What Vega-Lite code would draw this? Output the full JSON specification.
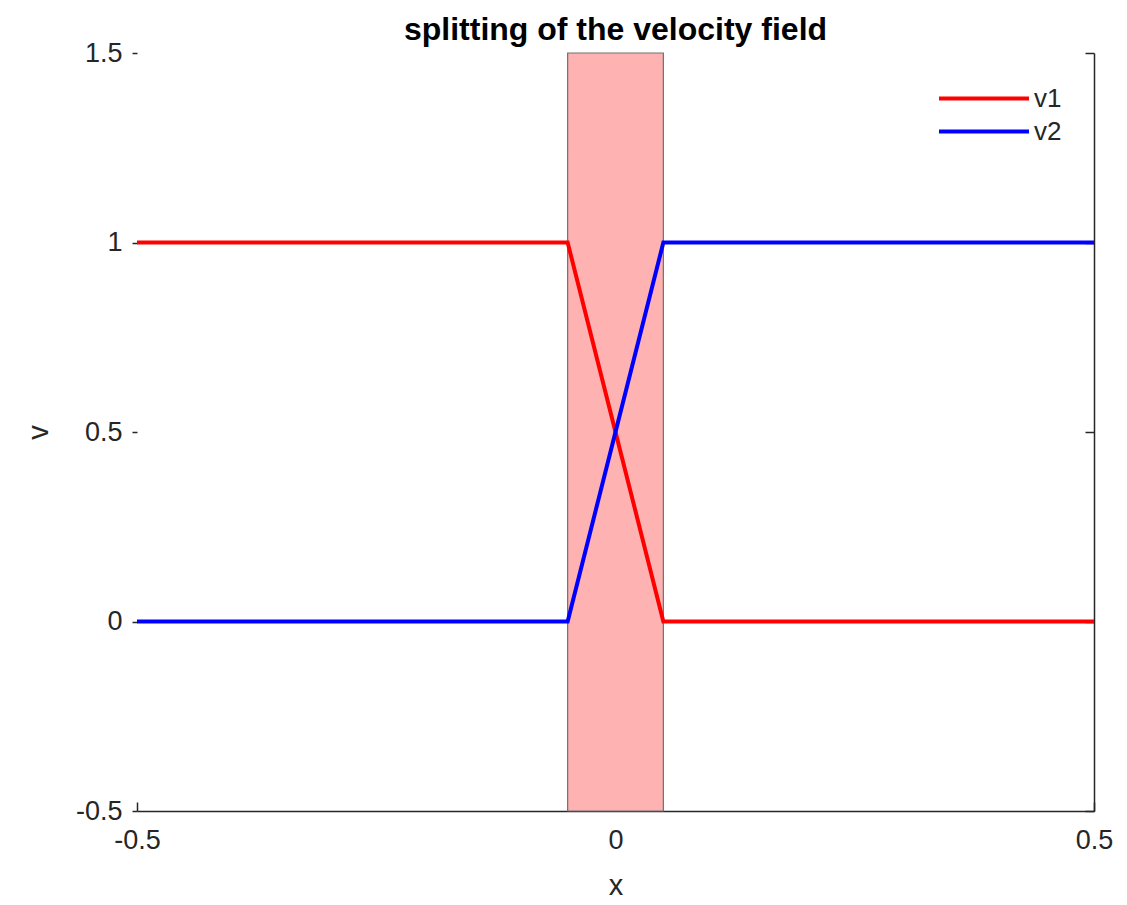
{
  "$schema": "https://vega.github.io/schema/vega-lite/v6.json",
  "width": 957,
  "height": 758,
  "autosize": "none",
  "padding": {"left": 137, "top": 53, "right": 33, "bottom": 94},
  "background": "white",
  "config": {
    "view": {"stroke": null},
    "font": "Liberation Sans",
    "axis": {"grid": false, "labelFont": "Liberation Sans", "titleFont": "Liberation Sans", "labelFontSize": 27, "titleFontSize": 29, "labelColor": "#262626", "titleColor": "#262626", "titleFontWeight": "normal", "domainColor": "#262626", "tickColor": "#262626", "domainWidth": 1.5, "tickWidth": 1.5}
  },
  "title": {"text": "splitting of the velocity field", "font": "Liberation Sans", "fontSize": 32, "fontWeight": "bold", "color": "#000000", "offset": -8, "anchor": "middle"},
  "datasets": {
    "band": [{"x0": -0.05, "x1": 0.05, "y0": -0.5, "y1": 1.5}],
    "lines": [
      {"x": -0.5, "v": 1, "series": "v1"},
      {"x": -0.05, "v": 1, "series": "v1"},
      {"x": 0.05, "v": 0, "series": "v1"},
      {"x": 0.5, "v": 0, "series": "v1"},
      {"x": -0.5, "v": 0, "series": "v2"},
      {"x": -0.05, "v": 0, "series": "v2"},
      {"x": 0.05, "v": 1, "series": "v2"},
      {"x": 0.5, "v": 1, "series": "v2"}
    ]
  },
  "layer": [
    {
      "data": {"name": "band"},
      "mark": {"type": "rect", "fill": "#ffb2b2", "stroke": "#707070", "strokeWidth": 1.2},
      "encoding": {
        "x": {"field": "x0", "type": "quantitative", "scale": {"domain": [-0.5, 0.5], "nice": false, "zero": false},
              "axis": {"orient": "bottom", "title": "x", "values": [-0.5, 0, 0.5], "labelExpr": "'' + datum.value", "tickSize": -9, "labelPadding": 25, "titlePadding": 18, "labelFlush": false}},
        "x2": {"field": "x1"},
        "y": {"field": "y0", "type": "quantitative", "scale": {"domain": [-0.5, 1.5], "nice": false, "zero": false},
              "axis": {"orient": "left", "title": "v", "values": [-0.5, 0, 0.5, 1, 1.5], "labelExpr": "'' + datum.value", "domain": false, "tickSize": 5, "labelPadding": 10, "titlePadding": 22}},
        "y2": {"field": "y1"}
      }
    },
    {
      "data": {"name": "lines"},
      "mark": {"type": "line", "strokeWidth": 4},
      "encoding": {
        "x": {"field": "x", "type": "quantitative"},
        "y": {"field": "v", "type": "quantitative",
              "axis": {"orient": "right", "title": null, "labels": false, "values": [-0.5, 0, 0.5, 1, 1.5], "tickSize": -9}},
        "color": {"field": "series", "type": "nominal",
                  "scale": {"domain": ["v1", "v2"], "range": ["#ff0000", "#0000ff"]},
                  "legend": {"orient": "none", "legendX": 800, "legendY": 29, "title": null, "symbolType": "stroke", "symbolSize": 8100, "symbolStrokeWidth": 4, "labelFontSize": 26, "labelFont": "Liberation Sans", "labelColor": "#262626", "rowPadding": 0, "clipHeight": 33, "labelOffset": 3, "padding": 0}}
      }
    }
  ],
  "resolve": {"axis": {"y": "independent"}}
}
